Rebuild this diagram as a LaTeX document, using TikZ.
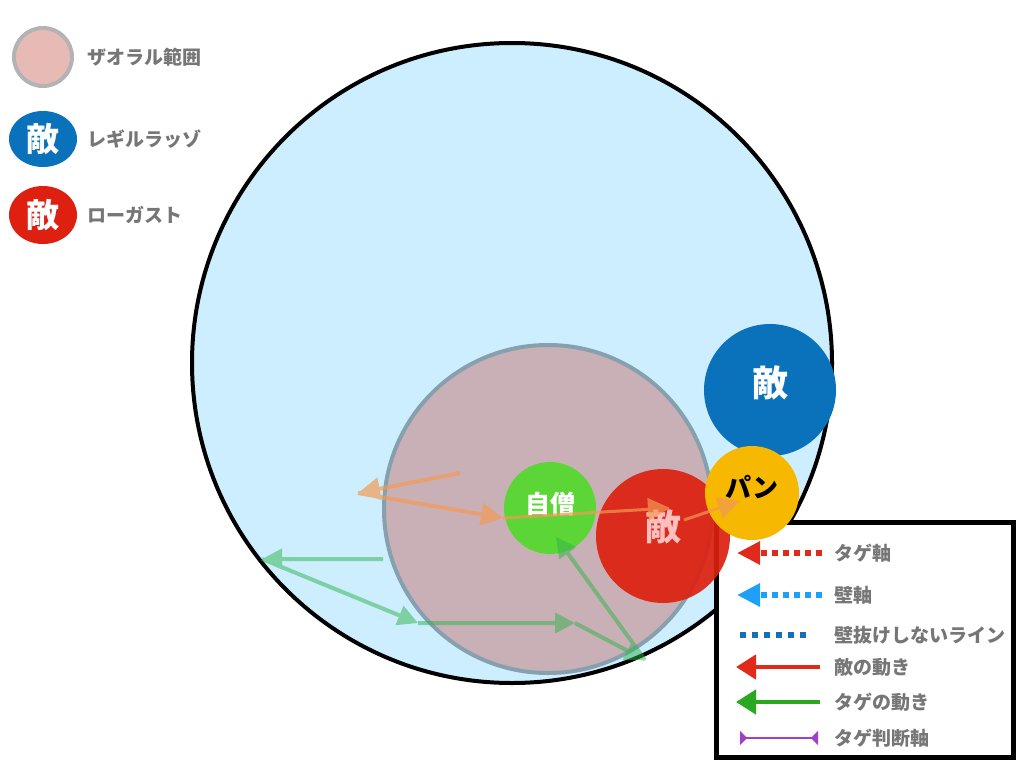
\documentclass[tikz,border=0pt]{standalone}
\usepackage{fontspec}
\setmainfont{Noto Sans CJK JP}
\usetikzlibrary{arrows.meta,shapes.geometric}

\definecolor{skyfill}{HTML}{CCEEFE}
\definecolor{zaofill}{HTML}{C9B0B6}
\definecolor{zaoline}{HTML}{87A0AE}
\definecolor{zaolegfill}{HTML}{E8BAB6}
\definecolor{zaolegline}{HTML}{B3B3B3}
\definecolor{selfgreen}{HTML}{5CD637}
\definecolor{enemyred}{HTML}{DD2010}
\definecolor{enemyblue}{HTML}{0A72BA}
\definecolor{panyellow}{HTML}{F6B800}
\definecolor{labelgray}{HTML}{767676}
\definecolor{movorange}{HTML}{F39A55}
\definecolor{movgreen}{HTML}{2DB34A}
\definecolor{axisblue}{HTML}{1EA0F8}
\definecolor{lineblue}{HTML}{1670B5}
\definecolor{legred}{HTML}{E02A1C}
\definecolor{leggreen}{HTML}{2AA820}
\definecolor{judgepurple}{HTML}{A040C8}

\begin{document}
\begin{tikzpicture}[x=1pt, y=-1pt,
    disc/.style={circle, inner sep=0pt},
    disctext/.style={inner sep=0pt, font=\bfseries\fontsize{#1}{#1}\selectfont},
    legtext/.style={anchor=west, inner sep=0pt, text=labelgray, font=\bfseries\fontsize{19}{19}\selectfont},
    orangemove/.style={draw=movorange, fill=movorange, line width=4pt, -{Triangle[length=22pt,width=22pt]}},
    greenmove/.style={draw=movgreen, fill=movgreen, line width=4pt, -{Triangle[length=20pt,width=20pt]}},
    dotaxis/.style={line width=6pt, dash pattern=on 6pt off 5pt, -{Triangle[length=23pt,width=22pt]}},
    solidmove/.style={line width=4.5pt, -{Triangle[length=20pt,width=24pt]}}]

    \useasboundingbox (0,0) rectangle (1024,768);

    % Field
    \draw[fill=skyfill, line width=4pt] (512,363) circle (320);

    % Legend box (lower right)
    \draw[fill=white, line width=5pt] (716,522) rectangle (1013,757);

    % Zaoral range
    \draw[fill=zaofill, draw=zaoline, line width=4pt] (548,509) circle (164);

    % Units
    \node[disc, fill=selfgreen, minimum size=92pt] (self) at (550,508) {};
    \node[disc, fill=enemyred, opacity=.92, minimum size=134pt] (lowgast) at (663,536) {};
    \node[disc, fill=enemyblue, minimum size=132pt] (regil) at (770,390) {};
    \node[disc, fill=panyellow, minimum size=94pt] (pan) at (752,493) {};
    \node[disctext=25, text=white] (selftext) at ([yshift=4pt]self.center) {自僧};
    \node[disctext=36, text=red!25!white] (lowgasttext) at ([yshift=9pt]lowgast.center) {敵};
    \node[disctext=36, text=white] (regiltext) at ([yshift=7pt]regil.center) {敵};
    \node[disctext=26, text=black] (pantext) at ([yshift=6pt]pan.center) {パン};

    % Enemy movement
    \coordinate (o1) at (460,473);
    \coordinate (o2) at (358,493);
    \coordinate (o3) at (503,518);
    \coordinate (o4) at (670,508);
    \coordinate (o5) at (684,520);
    \coordinate (o6) at (740,501);
    \begin{scope}[transparency group, opacity=.7]
        \draw[orangemove] (o1) -- (o2);
        \draw[orangemove] (o2) -- (o3);
        \draw[orangemove, line width=3pt] (o3) -- (o4);
        \draw[orangemove, line width=3pt] (o5) -- (o6);
    \end{scope}

    % Tag movement
    \coordinate (g1) at (383,559);
    \coordinate (g2) at (262,559);
    \coordinate (g3) at (418,623);
    \coordinate (g4) at (575,623);
    \coordinate (g5) at (645,660);
    \coordinate (g6) at (556,537);
    \begin{scope}[transparency group, opacity=.5]
        \draw[greenmove] (g1) -- (g2);
        \draw[greenmove] (g2) -- (g3);
        \draw[greenmove] (g3) -- (g4);
        \draw[greenmove] (g4) -- (g5);
        \draw[greenmove] (g5) -- (g6);
    \end{scope}

    % Legend, upper left
    \node[disc, fill=zaolegfill, draw=zaolegline, line width=4pt, minimum size=58pt] (legzao) at (43,57) {};
    \node[legtext] (legzaotext) at (87,57) {ザオラル範囲};
    \node[ellipse, inner sep=0pt, fill=enemyblue, minimum width=68pt, minimum height=56pt, text=white, font=\bfseries\fontsize{33}{33}\selectfont] (legregil) at (43,139) {敵};
    \node[legtext] (legregiltext) at (87,139) {レギルラッゾ};
    \node[ellipse, inner sep=0pt, fill=enemyred, minimum width=68pt, minimum height=58pt, text=white, font=\bfseries\fontsize{33}{33}\selectfont] (leglow) at (43,215) {敵};
    \node[legtext] (leglowtext) at (87,215) {ローガスト};

    % Legend, lower right
    \foreach \name/\y/\txt in {tag/553/タゲ軸, wall/595/壁軸, through/635/壁抜けしないライン,
                               enemymove/667/敵の動き, tagmove/702/タゲの動き, judge/738/タゲ判断軸} {
        \node[legtext] (\name text) at (834,\y) {\txt};
    }
    \draw[dotaxis, draw=legred, legred] (822,553) -- (737,553);
    \draw[dotaxis, draw=axisblue, axisblue] (822,595) -- (737,595);
    \draw[line width=6pt, dash pattern=on 6pt off 6pt, lineblue] (740,635) -- (808,635);
    \draw[solidmove, legred] (820,667) -- (736,667);
    \draw[solidmove, leggreen] (820,702) -- (736,702);
    \draw[line width=2.5pt, judgepurple, {Triangle[reversed,length=7pt,width=14pt]}-{Triangle[reversed,length=7pt,width=14pt]}] (740,738) -- (818,738);

\end{tikzpicture}
\end{document}
